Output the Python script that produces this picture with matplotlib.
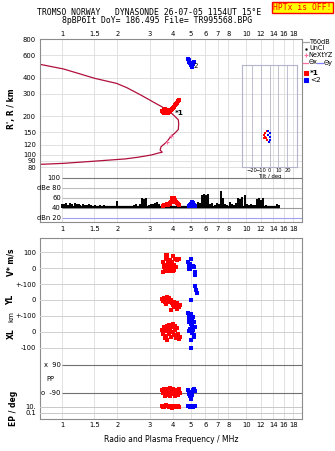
import matplotlib
matplotlib.use("Agg")
import matplotlib.pyplot as plt
from matplotlib.lines import Line2D
from matplotlib.patches import Rectangle
from matplotlib.ticker import NullLocator

# ---- data ----
freq_ticks = [1, 1.5, 2, 3, 4, 5, 6, 7, 8, 10, 12, 14, 16, 18]
freq_labels = ["1", "1.5", "2", "3", "4", "5", "6", "7", "8", "10", "12", "14", "16", "18"]
range_ticks = [800, 600, 400, 300, 200, 150, 120, 100, 90, 80]

# virtual height trace (upper) and real height profile (lower)
trace_f = [0.76, 1.02, 1.51, 1.98, 2.25, 2.44, 2.65, 3.0, 3.14, 3.48, 3.6]
trace_r = [510, 469, 396, 362, 335, 315, 296, 268, 258, 238, 228]
prof_f = [0.76, 1.02, 1.61, 2.2, 2.6, 3.07, 3.3, 3.5, 3.41, 3.45, 3.6, 3.71, 3.91, 4.1, 4.28, 4.3, 4.28, 4.1, 3.94, 3.85]
prof_r = [84.4, 85.9, 90, 93, 96, 100, 103, 105, 109, 116, 122, 127, 140, 148, 158, 175, 188, 200, 211, 217]
nextyz_f = [3.71, 3.91]
nextyz_r = [127, 140]

# echo clusters in the range panel
o1_f = [3.5, 3.55, 3.6, 3.65, 3.7, 3.75, 3.8, 3.85, 3.9, 3.95, 4.0, 4.05, 4.1, 4.15, 4.2, 4.25, 4.3, 3.62, 3.68, 3.78, 3.58, 3.72]
o1_r = [222, 218, 224, 220, 216, 222, 218, 220, 225, 228, 232, 238, 244, 250, 256, 262, 268, 230, 212, 214, 214, 226]
o2_f = [4.85, 4.88, 4.9, 4.95, 5.0, 5.05, 5.1, 5.15, 5.2, 4.92, 5.02, 4.87]
o2_r = [565, 550, 540, 520, 500, 490, 500, 515, 530, 555, 510, 530]

# amplitude panel: noise floor bars and echo amplitudes
noise_f = [1.00, 1.03, 1.05, 1.08, 1.11, 1.14, 1.17, 1.20, 1.23, 1.26, 1.30, 1.33, 1.37, 1.40,
           1.44, 1.48, 1.52, 1.56, 1.60, 1.65, 1.69, 1.74, 1.78, 1.83, 1.88, 1.93, 1.98, 2.03,
           2.09, 2.15, 2.20, 2.26, 2.32, 2.39, 2.45, 2.52, 2.58, 2.65, 2.72, 2.80, 2.87, 2.95,
           3.03, 3.11, 3.20, 3.28, 3.37, 3.46, 3.56, 3.65, 3.75, 3.85, 3.96, 4.06, 4.17, 4.28,
           4.40, 4.52, 4.64, 4.76, 4.89, 5.02, 5.16, 5.30, 5.44, 5.59, 5.74, 5.89, 6.05, 6.22,
           6.38, 6.56, 6.73, 6.92, 7.10, 7.30, 7.49, 7.70, 7.90, 8.12, 8.34, 8.56, 8.80, 9.03,
           9.28, 9.53, 9.79, 10.05, 10.33, 10.6, 10.9, 11.2, 11.5, 11.8, 12.1, 12.4, 12.8, 13.1,
           13.5, 13.9, 14.2, 14.6, 15.0]
noise_db = [48, 47, 50, 46, 49, 48, 50, 47, 48, 46, 47, 45, 46, 48,
            45, 44, 45, 44, 45, 44, 45, 44, 43, 44, 43, 44, 54, 43,
            44, 43, 43, 44, 43, 44, 45, 48, 44, 47, 60, 58, 59, 46,
            48, 47, 50, 52, 47, 44, 43, 43, 43, 42, 43, 42, 43, 44,
            43, 44, 43, 44, 42, 43, 44, 47, 52, 50, 66, 68, 66, 68,
            47, 49, 46, 50, 48, 73, 60, 48, 46, 52, 47, 45, 50, 60,
            58, 62, 65, 47, 45, 48, 46, 45, 58, 60, 56, 60, 45, 44,
            43, 44, 43, 48, 46]
amp1_f = [3.55, 3.6, 3.65, 3.7, 3.75, 3.8, 3.85, 3.9, 3.95, 4.0, 4.05, 4.1, 4.15, 4.2, 4.25, 4.3, 3.95, 4.05, 3.88, 4.12]
amp1_db = [44, 46, 45, 47, 46, 48, 50, 52, 55, 57, 54, 56, 52, 50, 48, 45, 59, 60, 47, 51]
amp2_f = [4.88, 4.95, 5.0, 5.05, 5.1, 5.15, 5.2, 5.25, 5.0, 5.1]
amp2_db = [43, 45, 48, 50, 52, 49, 46, 44, 44, 46]

# tilt inset
tilt1_x = [-6, -5, -4, -3, -5, -3, -6]
tilt1_y = [-11, -12, -13, -14, -10, -9, -13]
tilt2_x = [-2, 0, 1, 0, -1, -2]
tilt2_y = [-9, -10, -12, -14, -15, -11]

# lower panel: velocity, location, polarisation, error
v1_f = [3.55, 3.58, 3.6, 3.62, 3.65, 3.68, 3.7, 3.72, 3.75, 3.78, 3.8, 3.82, 3.85, 3.88, 3.9,
        3.93, 3.95, 3.98, 4.0, 4.05, 4.1, 4.15, 4.2, 4.25, 4.3, 4.08, 4.18, 3.52, 3.66, 4.02]
v1_v = [40, 20, 5, -10, 60, 80, 85, 70, 30, 10, 0, -20, 50, 25, -5,
        15, 40, -15, 5, 20, 55, 60, 50, 55, 60, -10, 10, -25, -20, 75]
v2_f = [4.85, 4.88, 4.9, 4.92, 4.95, 5.0, 5.02, 5.05, 5.1, 5.15, 5.2, 5.25, 5.3, 4.87, 4.97]
v2_v = [40, 20, 0, 10, -5, 55, 15, 10, 5, 15, 10, -25, -45, -5, 25]
yl1_f = [3.5, 3.55, 3.6, 3.62, 3.65, 3.7, 3.75, 3.78, 3.8, 3.85, 3.9, 3.95, 4.0, 4.02, 4.05,
         4.1, 4.15, 4.2, 4.25, 4.3, 4.35, 3.92, 4.08, 4.22, 3.68]
yl1_v = [5, -5, 15, -10, 0, 20, 5, -15, 10, -5, 0, -20, -10, -30, -15,
         -25, -35, -20, -40, -45, -30, -60, -45, -55, -25]
yl2_f = [5.3, 5.33, 5.38, 5.0]
yl2_v = [85, 65, 45, 0]
xl1_f = [3.5, 3.55, 3.6, 3.62, 3.65, 3.7, 3.72, 3.75, 3.8, 3.82, 3.85, 3.9, 3.95, 3.98, 4.0,
         4.05, 4.1, 4.15, 4.2, 4.25, 4.3, 4.35, 3.68, 4.12]
xl1_v = [10, -15, 30, -40, 5, 40, -50, 20, 45, -10, 15, -30, 30, 0, 50,
         -20, 10, -40, 25, -15, -45, -30, -25, 35]
xl2_f = [4.85, 4.9, 4.95, 5.0, 5.05, 5.1, 4.88, 4.92, 5.02, 5.08, 5.15, 5.2, 5.25, 4.95,
         5.0, 5.05, 5.12, 5.18, 4.9, 5.02, 5.0, 5.2]
xl2_v = [120, 100, 90, 110, 80, 70, 60, 75, 50, 40, 95, 65, 30, 20,
         10, -5, 15, -20, 5, -50, -100, -30]
pp1_f = [3.5, 3.55, 3.6, 3.65, 3.7, 3.75, 3.8, 3.85, 3.9, 3.95, 4.0, 4.05, 4.1, 4.15, 4.2,
         4.25, 4.3, 4.35, 3.62, 3.88]
pp1_v = [-70, -90, -60, -80, -100, -65, -85, -110, -75, -95, -60, -90, -105, -70, -85,
         -100, -65, -90, -105, -58]
pp2_f = [4.85, 4.9, 4.95, 5.0, 5.05, 5.1, 5.15, 5.2, 5.25, 4.98]
pp2_v = [-70, -95, -80, -125, -100, -85, -70, -65, -75, -110]
ep1_f = [3.5, 3.6, 3.7, 3.8, 3.9, 4.0, 4.1, 4.2, 4.3, 3.65, 3.95, 4.15, 3.55, 4.25, 3.85]
ep1_v = [20, 10, 15, 8, 25, 12, 6, 18, 10, 30, 5, 14, 8, 22, 12]
ep2_f = [4.85, 4.95, 5.05, 5.15, 5.25, 5.0, 5.1]
ep2_v = [15, 10, 20, 8, 12, 25, 6]

# ---- styling ----
W, H = 335, 451
TRACE = "#b0103c"
RED = "#ff0000"
BLUE = "#0000ff"
PINK = "#ff6fa0"
GRID = "#dcdcdc"
FRAME = "#8c8c8c"
FS = 4.9
plt.rcParams["font.family"] = "DejaVu Sans"


def box(x0, y0, x1, y1):
    return [x0 / W, 1 - y1 / H, (x1 - x0) / W, (y1 - y0) / H]


def fx(x):
    return x / W


def fy(y):
    return 1 - y / H


def freq_axis(ax, labels_on=True):
    ax.set_xscale("log")
    ax.set_xlim(0.76, 20)
    ax.set_xticks(freq_ticks)
    ax.set_xticklabels(freq_labels if labels_on else [])
    ax.xaxis.set_minor_locator(NullLocator())
    ax.tick_params(length=0, labelsize=FS)
    for s in ax.spines.values():
        s.set_color(FRAME)
        s.set_linewidth(0.8)


def dot(ax, f, v, color, ms=2.3):
    ax.plot(f, v, "s", color=color, ms=ms, mew=0, clip_on=False)


fig = plt.figure(figsize=(W / 100, H / 100), dpi=100)

# ---- range panel ----
ax_r = fig.add_axes(box(40, 39.3, 301.7, 177.5))
freq_axis(ax_r)
ax_r.xaxis.tick_top()
ax_r.tick_params(axis="x", pad=1.8)
ax_r.set_yscale("log")
ax_r.set_ylim(66.6, 800)
ax_r.set_yticks(range_ticks)
ax_r.set_yticklabels([str(t) for t in range_ticks])
ax_r.yaxis.set_minor_locator(NullLocator())
ax_r.tick_params(axis="y", pad=3)
ax_r.grid(True, color=GRID, lw=0.6)
ax_r.spines["bottom"].set_visible(False)
ax_r.set_ylabel("R', R / km", fontsize=5.5, fontweight="bold", labelpad=5)

ax_r.plot(trace_f, trace_r, color=TRACE, lw=0.9)
ax_r.plot(prof_f, prof_r, color=TRACE, lw=0.9)
ax_r.plot(nextyz_f, nextyz_r, "+", color=PINK, ms=3, mew=0.8)
dot(ax_r, o1_f, o1_r, RED, 2.6)
dot(ax_r, o2_f, o2_r, BLUE, 2.2)
ax_r.text(4.1, 212, "*1", fontsize=5.2, fontweight="bold", va="center")
ax_r.text(5.15, 492, "2", fontsize=5.2, va="center")

# tilt inset
ax_t = fig.add_axes(box(241.7, 65, 297.3, 167.3))
ax_t.patch.set_visible(False)
ax_t.set_xlim(-31, 31)
ax_t.set_ylim(-30, 30)
ax_t.set_xticks([-20, -10, 0, 10, 20])
ax_t.set_yticks([])
ax_t.tick_params(length=0, labelsize=3.7, pad=0.8)
ax_t.grid(axis="x", color="#b4b4cc", lw=0.6)
for s in ax_t.spines.values():
    s.set_color("#b4b4cc")
    s.set_linewidth(0.8)
ax_t.set_xlabel("Tilt / deg", fontsize=3.9, labelpad=0.5)
dot(ax_t, tilt1_x, tilt1_y, RED, 1.9)
dot(ax_t, tilt2_x, tilt2_y, BLUE, 1.9)

# ---- amplitude panel ----
ax_db = fig.add_axes(box(40, 177.5, 301.7, 222.3))
freq_axis(ax_db)
ax_db.tick_params(axis="x", pad=3)
ax_db.set_ylim(10.8, 100)
ax_db.set_yticks([])
ax_db.grid(axis="x", color=GRID, lw=0.6)
ax_db.spines["top"].set_visible(False)
db_levels = [100, 80, 60, 40, 20]
db_text = ["100", "dBe 80", "60", "40", "dBn 20"]
db_cols = ["#7a7a7a", "#bdbdbd", "#bdbdbd", "#9a9a9a", "#a0a0f0"]
for lev, txt, col in zip(db_levels, db_text, db_cols):
    ax_db.hlines(lev, 1.0, 20, color=col, lw=0.8, clip_on=False)
    ax_db.text(0.985, lev, txt, fontsize=FS, ha="right", va="center")
ax_db.vlines(noise_f, 40, noise_db, color="black", lw=1.4)
ax_db.hlines(41, 1.0, 15.1, color="black", lw=1.6)
dot(ax_db, amp1_f, amp1_db, RED, 2.4)
dot(ax_db, amp2_f, amp2_db, BLUE, 2.4)

# ---- lower panel ----
LOW_TOP, LOW_BOT = 237.7, 419.3
ax_low = fig.add_axes(box(40, LOW_TOP, 301.7, LOW_BOT))
freq_axis(ax_low)
ax_low.tick_params(axis="x", pad=2)
ax_low.set_yticks([])
ax_low.set_ylim(0, 1)
ax_low.grid(axis="x", color=GRID, lw=0.6)


def strip(zero_px, px_per_unit, ticks, labels, col, log=False):
    a = fig.add_axes(box(40, LOW_TOP, 301.7, LOW_BOT))
    a.patch.set_visible(False)
    for s in a.spines.values():
        s.set_visible(False)
    a.set_xscale("log")
    a.set_xlim(0.76, 20)
    a.set_xticks([])
    a.xaxis.set_minor_locator(NullLocator())
    if log:
        a.set_yscale("log")
        a.set_ylim(10 ** (-1 - (LOW_BOT - zero_px) / px_per_unit),
                   10 ** (1 + (zero_px - 6 - LOW_TOP) / px_per_unit))
    else:
        a.set_ylim(-(LOW_BOT - zero_px) / px_per_unit, (zero_px - LOW_TOP) / px_per_unit)
    a.set_yticks(ticks)
    a.set_yticklabels(labels)
    a.yaxis.set_minor_locator(NullLocator())
    a.tick_params(length=0, labelsize=FS, pad=3)
    a.grid(axis="y", color=col, lw=0.7)
    return a


ax_v = strip(268.3, 0.16, [100, 0, -100], ["100", "0", "+-100"], "#d0d0d0")
dot(ax_v, v1_f, v1_v, RED)
dot(ax_v, v2_f, v2_v, BLUE)
ax_yl = strip(300, 0.16, [0, -100], ["0", "+-100"], "#d0d0d0")
dot(ax_yl, yl1_f, yl1_v, RED)
dot(ax_yl, yl2_f, yl2_v, BLUE)
ax_xl = strip(332, 0.16, [0, -100], ["0", "-100"], "#d0d0d0")
dot(ax_xl, xl1_f, xl1_v, RED)
dot(ax_xl, xl2_f, xl2_v, BLUE)

ax_pp = strip(379.15, 0.1572, [], [], "#d0d0d0")
for lev, txt in zip([90, -90], ["x  90", "o  -90"]):
    ax_pp.hlines(lev, 1.0, 20, color="#707070", lw=0.8)
    ax_pp.text(0.985, lev, txt, fontsize=FS, ha="right", va="center")
ax_pp.text(0.82, 0, "PP", fontsize=FS, ha="left", va="center")
dot(ax_pp, pp1_f, pp1_v, RED)
dot(ax_pp, pp2_f, pp2_v, BLUE)

# EP: 10 at 406.7 px, 0.1 at 412.7 px (3 px per decade)
ax_ep = strip(412.7, 3.0, [10, 0.1], ["10.", "0.1"], "#c8c8c8", log=True)
dot(ax_ep, ep1_f, ep1_v, RED)
dot(ax_ep, ep2_f, ep2_v, BLUE)

# left-hand labels of the lower panel
fig.text(fx(11), fy(262), "V* m/s", rotation=90, fontsize=5.5, fontweight="bold", ha="center", va="center")
fig.text(fx(11), fy(300), "YL", rotation=90, fontsize=5.5, fontweight="bold", ha="center", va="center")
fig.text(fx(11), fy(317), "km", rotation=90, fontsize=5, ha="center", va="center")
fig.text(fx(11), fy(334), "XL", rotation=90, fontsize=5.5, fontweight="bold", ha="center", va="center")
fig.text(fx(13), fy(408), "EP / deg", rotation=90, fontsize=5.5, fontweight="bold", ha="center", va="center")
fig.text(fx(171), fy(439.3), "Radio and Plasma Frequency / MHz", fontsize=5.5, ha="center", va="center")

# ---- header ----
fig.text(fx(149), fy(12.3), "TROMSO NORWAY   DYNASONDE 26-07-05 1154UT 15°E",
         family="DejaVu Sans Mono", fontsize=5.9, ha="center", va="center")
fig.text(fx(157.5), fy(20.7), "8pBP6It DoY= 186.495 File= TR995568.BPG",
         family="DejaVu Sans Mono", fontsize=5.9, ha="center", va="center")
fig.patches.append(Rectangle((fx(271.7), fy(13.3)), (333 - 271.7) / W, 11.6 / H,
                             transform=fig.transFigure, facecolor="#ffff00", edgecolor=RED, lw=1))
fig.text(fx(302.3), fy(7.5), "HPTx is OFF!", family="DejaVu Sans Mono", fontsize=5.8,
         color=RED, ha="center", va="center")

# ---- legend ----
def fig_line(x0, x1, y, color):
    fig.lines.append(Line2D([fx(x0), fx(x1)], [fy(y), fy(y)], transform=fig.transFigure, color=color, lw=0.9))


def fig_mark(x, y, marker, color, ms):
    fig.lines.append(Line2D([fx(x)], [fy(y)], transform=fig.transFigure, marker=marker,
                            color=color, ms=ms, mew=0.8, ls="none"))


LFS = 4.7
fig_line(303, 308.5, 41.7, "#a0a0a0")
fig.text(fx(309.5), fy(41.7), "T60dB", fontsize=LFS, va="center")
fig_mark(306, 48.5, "s", "black", 0.8)
fig.text(fx(309.5), fy(48.5), "UnCl", fontsize=LFS, va="center")
fig_mark(305.5, 55, "+", PINK, 3.2)
fig.text(fx(308.5), fy(55), "NeXtYZ", fontsize=LFS, va="center")
fig_line(303, 308, 62.5, PINK)
fig.text(fx(308.5), fy(62.5), "Θx", fontsize=LFS, va="center")
fig_line(317, 323, 62.5, "#8080ff")
fig.text(fx(323.5), fy(62.5), "Θy", fontsize=LFS, va="center")
fig_mark(306, 72.7, "s", RED, 2.4)
fig.text(fx(310), fy(72.7), "*1", fontsize=LFS + 0.5, fontweight="bold", va="center")
fig_mark(306, 80, "s", BLUE, 2.4)
fig.text(fx(310), fy(80), "<2", fontsize=LFS + 0.5, va="center")

fig.savefig("out.png", dpi=100)
